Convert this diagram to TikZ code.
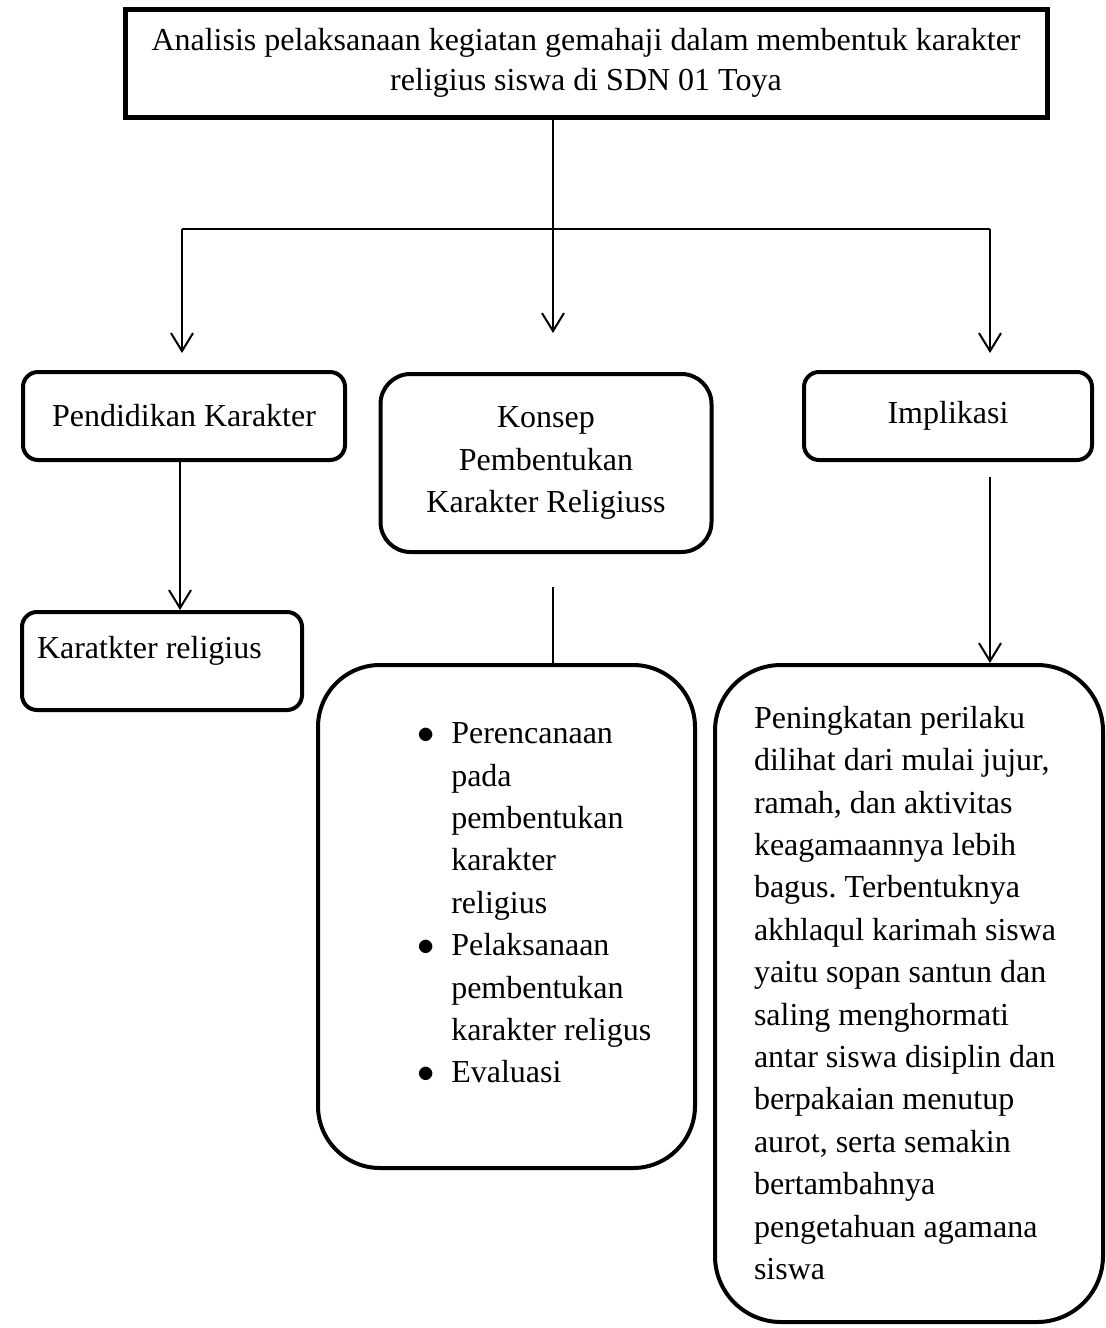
\documentclass[tikz,border=0pt]{standalone}
\usepackage{fontspec}
\setmainfont{Liberation Serif}
\usepackage{tikz}
\usetikzlibrary{arrows.meta}
\usetikzlibrary{positioning}
\frenchspacing
\tikzset{
    tnode/.style = {align=center, inner sep=0pt, text centered, font=\fontsize{16pt}{21.2pt}\selectfont},
    head_box/.style = {tnode, rectangle, draw=black, line width=2.5pt, minimum width=461pt, minimum height=54pt, font=\fontsize{16pt}{20pt}\selectfont},
    small_box/.style = {tnode, rectangle, rounded corners=7.5pt, draw=black, line width=2pt},
    mid_box/.style = {tnode, rectangle, rounded corners=15pt, draw=black, line width=2pt},
    big_box/.style = {tnode, rectangle, rounded corners=31pt, draw=black, line width=2pt},
    ltext/.style = {tnode, align=left, anchor=north west}
}

\begin{document}
\begin{tikzpicture}[x=0.5pt, y=-0.5pt, line width=1pt, >={Straight Barb[length=9pt,width=11pt]}]
    \useasboundingbox (0,0) rectangle (1105,1328);

    \node [head_box] (title) at (586,63)
        {Analisis pelaksanaan kegiatan gemahaji dalam membentuk karakter\\religius siswa di SDN 01 Toya};

    \node [small_box, minimum width=161pt, minimum height=44pt] (pendidikan) at (184,416) {Pendidikan Karakter};
    \node [mid_box, minimum width=165.5pt, minimum height=89pt] (konsep) at (546,463) {Konsep\\Pembentukan\\Karakter Religiuss};
    \node [small_box, minimum width=144pt, minimum height=44pt] (implikasi) at (948,416) {Implikasi};

    \node [small_box, minimum width=140pt, minimum height=49pt] (religius) at (162,661) {};
    \node [ltext] (religius_txt) at ([shift={(16,25)}]religius.north west) {Karatkter religius};

    \node [big_box, minimum width=188.5pt, minimum height=251.5pt] (bullets) at (506.5,916.5) {};
    \node [ltext] (bullets_txt) at ([shift={(100,50)}]bullets.north west)
        {\begin{tabular}{@{}c@{\hspace{8.5pt}}l@{}}
            $\bullet$ & Perencanaan\\
                      & pada\\
                      & pembentukan\\
                      & karakter\\
                      & religius\\
            $\bullet$ & Pelaksanaan\\
                      & pembentukan\\
                      & karakter religus\\
            $\bullet$ & Evaluasi
        \end{tabular}};

    \node [big_box, rounded corners=33pt, minimum width=194pt, minimum height=328.5pt] (effect) at (909,993.5) {};
    \node [ltext] (effect_txt) at ([shift={(40,42)}]effect.north west)
        {Peningkatan perilaku\\
         dilihat dari mulai jujur,\\
         ramah, dan aktivitas\\
         keagamaannya lebih\\
         bagus. Terbentuknya\\
         akhlaqul karimah siswa\\
         yaitu sopan santun dan\\
         saling menghormati\\
         antar siswa disiplin dan\\
         berpakaian menutup\\
         aurot, serta semakin\\
         bertambahnya\\
         pengetahuan agamana\\
         siswa};

    \coordinate (fork) at (553,229);
    \coordinate (fork_l) at (182,229);
    \coordinate (fork_r) at (990,229);

    \draw [->, shorten >=19.5pt] (title.south -| fork) -- (fork |- konsep.north);
    \draw (fork_l) -- (fork_r);
    \draw [->, shorten >=8.5pt] (fork_l) -- (fork_l |- pendidikan.north);
    \draw [->, shorten >=8.5pt] (fork_r) -- (fork_r |- implikasi.north);

    \draw [->] ([xshift=-2pt]pendidikan.south) -- ([xshift=-2pt]pendidikan.south |- religius.north);
    \draw [shorten <=16.5pt] (konsep.south -| fork) -- (fork |- bullets.north);
    \draw [->, shorten <=7.5pt] (implikasi.south -| fork_r) -- (fork_r |- effect.north);
\end{tikzpicture}
\end{document}
